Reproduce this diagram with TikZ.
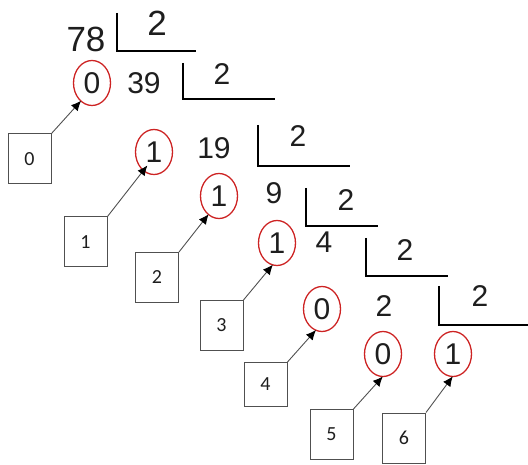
\documentclass[tikz,border=0pt]{standalone}
\usepackage{fontspec}
\setmainfont{Liberation Sans}
\newfontfamily\labfont{Carlito}
\usetikzlibrary{shapes.geometric,arrows.meta}
\definecolor{ink}{RGB}{30,30,30}
\definecolor{ringred}{RGB}{205,35,35}
\definecolor{boxgray}{RGB}{80,80,80}
\tikzset{
  num/.style={inner sep=0pt,text=ink,font=\fontsize{30}{30}\selectfont},
  bignum/.style={inner sep=0pt,text=ink,font=\fontsize{35}{35}\selectfont},
  ring/.style={ellipse,draw=ringred,line width=1.3pt,minimum width=37pt,minimum height=45pt,inner sep=0pt,text=ink,font=\fontsize{30}{30}\selectfont},
  labbox/.style={draw=boxgray,line width=1pt,minimum width=43pt,minimum height=50pt,inner sep=0pt,text=ink,font=\labfont\fontsize{20}{20}\selectfont},
  bracket/.style={draw=black,line width=2.6pt},
  arr/.style={draw=boxgray,line width=0.9pt,-{Latex[length=10pt,width=9pt,color=black]},shorten >=-1pt}
}
\begin{document}
\begin{tikzpicture}[x=1pt,y=-1pt]
\useasboundingbox (0,0) rectangle (528,465);
% dividends and divisors
\node[bignum] (t78) at (86,39) {78};
\node[bignum] (q0) at (157,23) {2};
\node[num] (t39) at (144,83) {39};
\node[num] (q1) at (222,74) {2};
\node[num] (t19) at (214,148) {19};
\node[num] (q2) at (298,136) {2};
\node[num] (t9) at (274,193) {9};
\node[num] (q3) at (346,200) {2};
\node[num] (t4) at (324,242) {4};
\node[num] (q4) at (405,250) {2};
\node[num] (t2) at (384,306) {2};
\node[num] (q5) at (480,296) {2};
% brackets
\draw[bracket] (117,13) -- (117,51) -- (196,51);
\draw[bracket] (183,63) -- (183,99) -- (275,99);
\draw[bracket] (258,125) -- (258,166) -- (350,166);
\draw[bracket] (306,188) -- (306,226) -- (378,226);
\draw[bracket] (366,238) -- (366,276) -- (448,276);
\draw[bracket] (439,286) -- (439,325) -- (528,325);
% remainders
\node[ring] (c0) at (92,83) {0};
\node[ring] (c1) at (154,152) {1};
\node[ring] (c2) at (219,196) {1};
\node[ring] (c3) at (277,243) {1};
\node[ring] (c4) at (322,309) {0};
\node[ring] (c5) at (383,354) {0};
\node[ring] (c6) at (453,354) {1};
% index boxes
\node[labbox] (b0) at (29.5,159) {0};
\node[labbox] (b1) at (85.5,242) {1};
\node[labbox] (b2) at (157,277.5) {2};
\node[labbox] (b3) at (221.5,325.5) {3};
\node[labbox,minimum height=44pt] (b4) at (265.5,384.5) {4};
\node[labbox] (b5) at (331.5,434.5) {5};
\node[labbox] (b6) at (404,438) {6};
% arrows
\draw[arr] (b0.north east) -- (c0.238);
\draw[arr,shorten >=-7pt] (b1.north east) -- (c1.240);
\draw[arr] (b2.north east) -- (c2.240);
\draw[arr] (b3.north east) -- (c3.258);
\draw[arr] (b4.north east) -- (c4.253);
\draw[arr] (b5.north east) -- (c5.268);
\draw[arr] (b6.north east) -- (c6.268);
\end{tikzpicture}
\end{document}
